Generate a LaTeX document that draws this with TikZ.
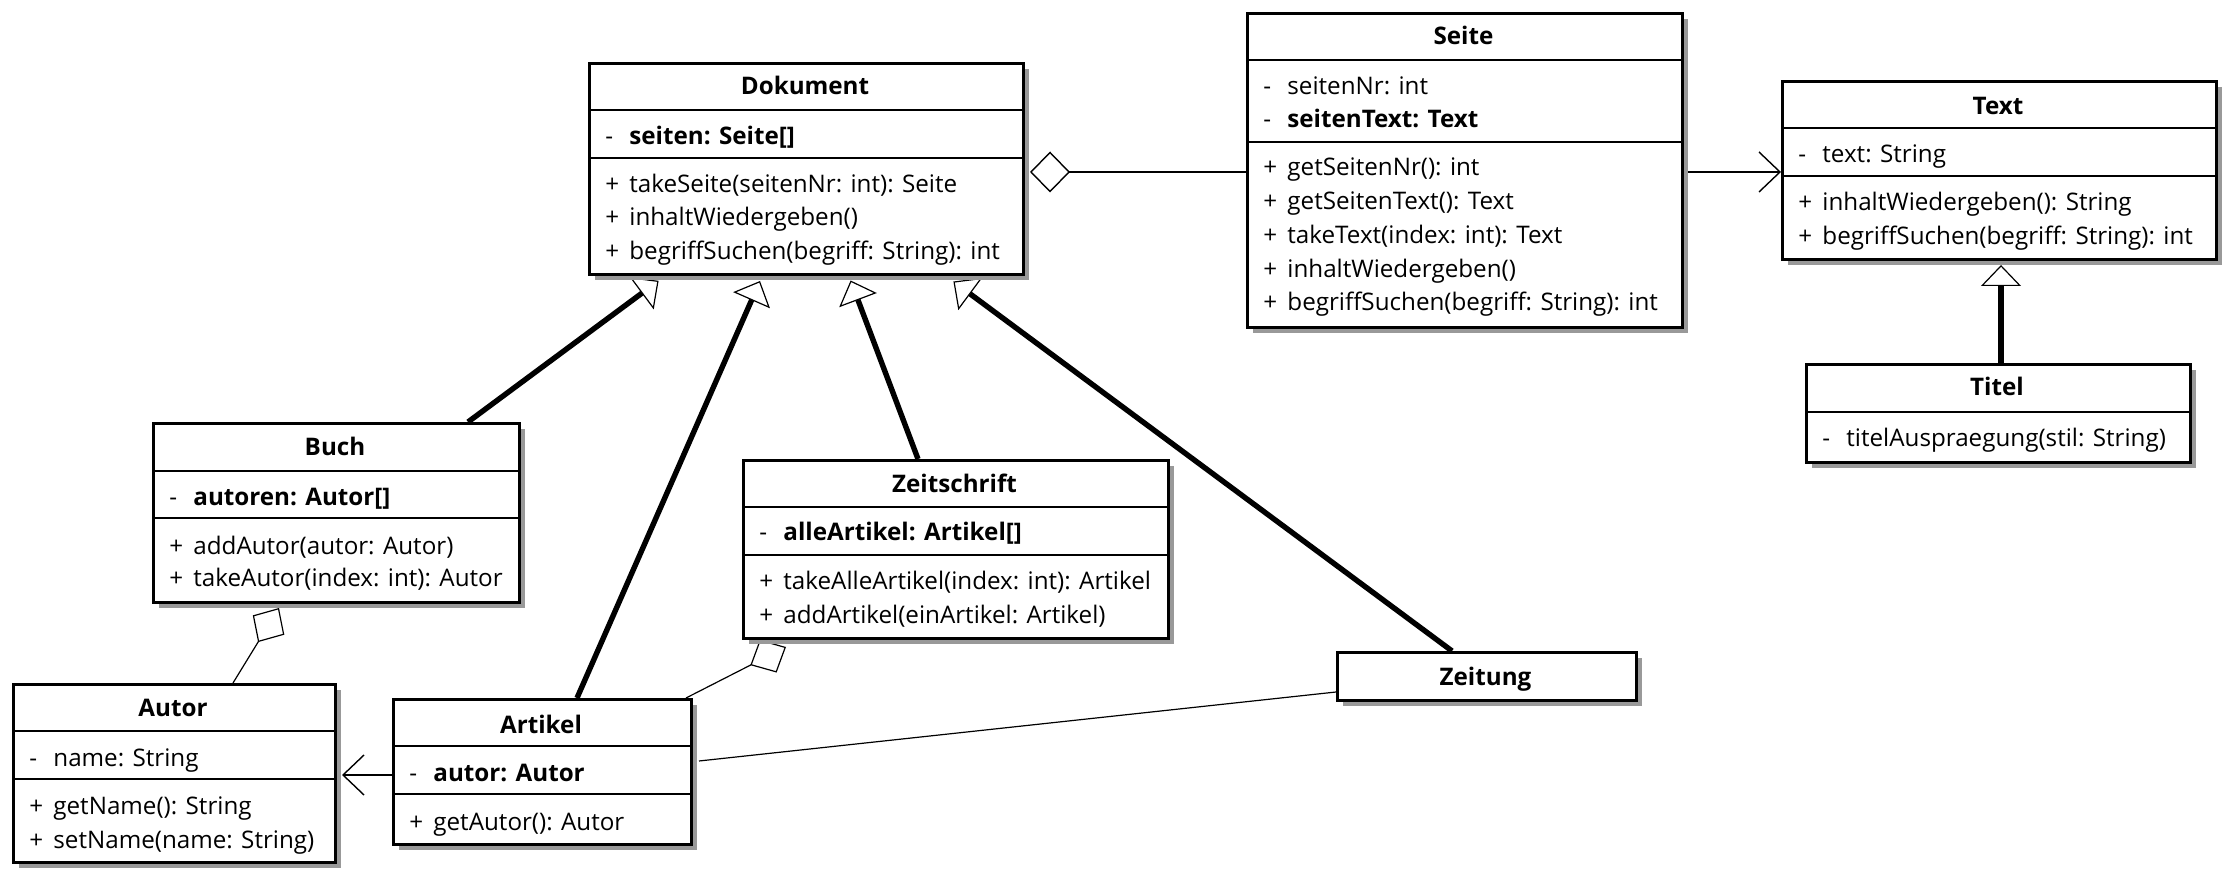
\documentclass[tikz,border=0pt]{standalone}
\usepackage{fontspec}
\setmainfont{Open Sans}
\usetikzlibrary{arrows.meta,shadows}
\pgfdeclarelayer{background}
\pgfsetlayers{background,main}
\newcommand\umlfont{\fontsize{12.1}{17}\selectfont}
\newcommand\mem[5]{\node[mk] (#1m) at (#2+17,#3) {#4}; \node[mb] (#1) at (#2+41,#3) {#5};}
\begin{document}
\begin{tikzpicture}[x=0.5pt,y=-0.5pt,
 box/.style={draw, line width=1.3pt, fill=white, rectangle, inner sep=0pt, anchor=north west,
   drop shadow={shadow xshift=3pt, shadow yshift=-3pt, fill=black!40, opacity=1}},
 tt/.style={anchor=base, inner sep=0pt, font=\umlfont\bfseries},
 mk/.style={anchor=base west, inner sep=0pt, font=\umlfont},
 mb/.style={anchor=base west, inner sep=0pt, font=\umlfont},
 sepl/.style={line width=1.2pt},
 gen/.style={line width=2.7pt, -{Triangle[open, length=10.5pt, width=20pt, line width=0.6pt]}},
 agg/.style={line width=0.6pt},
 aggd/.style={line width=0.6pt, {Diamond[open, length=20pt, width=18.5pt, line width=0.6pt]}-},
 nav/.style={line width=0.8pt, -{Straight Barb[length=10.5pt, width=20pt, line width=0.7pt]}},
]
\useasboundingbox (0,0) rectangle (2232,876);

% Dokument
\node[box, minimum width=217pt, minimum height=105.5pt] (Dokument) at (588,62) {};
\draw[sepl] (Dokument.west |- 0,110) -- (Dokument.east |- 0,110);
\draw[sepl] (Dokument.west |- 0,158) -- (Dokument.east |- 0,158);
\node[tt] (dT) at (805,95) {Dokument};
\mem{dA1}{588}{145}{-}{\bfseries seiten: Seite[]}
\mem{dM1}{588}{193}{+}{takeSeite(seitenNr: int): Seite}
\mem{dM2}{588}{226}{+}{inhaltWiedergeben()}
\mem{dM3}{588}{260}{+}{begriffSuchen(begriff: String): int}

% Seite
\node[box, minimum width=217.5pt, minimum height=157pt] (Seite) at (1246,12) {};
\draw[sepl] (Seite.west |- 0,60) -- (Seite.east |- 0,60);
\draw[sepl] (Seite.west |- 0,142) -- (Seite.east |- 0,142);
\node[tt] (sT) at (1463.5,45) {Seite};
\mem{sA1}{1246}{95}{-}{seitenNr: int}
\mem{sA2}{1246}{128}{-}{\bfseries seitenText: Text}
\mem{sM1}{1246}{176}{+}{getSeitenNr(): int}
\mem{sM2}{1246}{210}{+}{getSeitenText(): Text}
\mem{sM3}{1246}{244}{+}{takeText(index: int): Text}
\mem{sM4}{1246}{278}{+}{inhaltWiedergeben()}
\mem{sM5}{1246}{311}{+}{begriffSuchen(begriff: String): int}

% Text
\node[box, minimum width=217pt, minimum height=89pt] (Text) at (1781,80) {};
\draw[sepl] (Text.west |- 0,128) -- (Text.east |- 0,128);
\draw[sepl] (Text.west |- 0,176) -- (Text.east |- 0,176);
\node[tt] (tT) at (1998,115) {Text};
\mem{tA1}{1781}{163}{-}{text: String}
\mem{tM1}{1781}{211}{+}{inhaltWiedergeben(): String}
\mem{tM2}{1781}{245}{+}{begriffSuchen(begriff: String): int}

% Titel
\node[box, minimum width=192pt, minimum height=49pt] (Titel) at (1805,363) {};
\draw[sepl] (Titel.west |- 0,412) -- (Titel.east |- 0,412);
\node[tt] (tiT0) at (1997,396) {Titel};
\mem{tiA1}{1805}{447}{-}{titelAuspraegung(stil: String)}

% Buch
\node[box, minimum width=183pt, minimum height=89.5pt] (Buch) at (152,422) {};
\draw[sepl] (Buch.west |- 0,471) -- (Buch.east |- 0,471);
\draw[sepl] (Buch.west |- 0,518) -- (Buch.east |- 0,518);
\node[tt] (bT) at (335,456) {Buch};
\mem{bA1}{152}{506}{-}{\bfseries autoren: Autor[]}
\mem{bM1}{152}{554}{+}{addAutor(autor: Autor)}
\mem{bM2}{152}{587}{+}{takeAutor(index: int): Autor}

% Autor
\node[box, minimum width=161pt, minimum height=89pt] (Autor) at (12,683) {};
\draw[sepl] (Autor.west |- 0,731) -- (Autor.east |- 0,731);
\draw[sepl] (Autor.west |- 0,779) -- (Autor.east |- 0,779);
\node[tt] (aT) at (173,716) {Autor};
\mem{aA1}{12}{766}{-}{name: String}
\mem{aM1}{12}{814}{+}{getName(): String}
\mem{aM2}{12}{848}{+}{setName(name: String)}

% Artikel
\node[box, minimum width=149pt, minimum height=72.5pt] (Artikel) at (392,698) {};
\draw[sepl] (Artikel.west |- 0,746) -- (Artikel.east |- 0,746);
\draw[sepl] (Artikel.west |- 0,794) -- (Artikel.east |- 0,794);
\node[tt] (arT) at (541,733) {Artikel};
\mem{arA1}{392}{781}{-}{\bfseries autor: Autor}
\mem{arM1}{392}{830}{+}{getAutor(): Autor}

% Zeitschrift
\node[box, minimum width=212.5pt, minimum height=89pt] (Zeitschrift) at (742,459) {};
\draw[sepl] (Zeitschrift.west |- 0,507) -- (Zeitschrift.east |- 0,507);
\draw[sepl] (Zeitschrift.west |- 0,555) -- (Zeitschrift.east |- 0,555);
\node[tt] (zT) at (954.5,493) {Zeitschrift};
\mem{zA1}{742}{541}{-}{\bfseries alleArtikel: Artikel[]}
\mem{zM1}{742}{589}{+}{takeAlleArtikel(index: int): Artikel}
\mem{zM2}{742}{624}{+}{addArtikel(einArtikel: Artikel)}

% Zeitung
\node[box, minimum width=149.5pt, minimum height=24pt] (Zeitung) at (1336,651) {};
\node[tt] (zgT) at (1485.5,685) {Zeitung};

\begin{pgfonlayer}{background}
\coordinate (dsD) at (1030,172);
\draw[line width=0.8pt, {Diamond[open, length=20pt, width=20.5pt, line width=0.7pt]}-] (dsD) -- (Seite.west |- dsD);
\coordinate (stS) at (1688,172);
\draw[nav] (stS) -- (Text.west |- stS);
\coordinate (tiTip) at (2001,265);
\draw[gen] (Titel.north -| tiTip) -- (tiTip);
\coordinate (gB) at (658.6,280.8);
\coordinate (gA) at (760,281);
\coordinate (gZ) at (850.6,280.5);
\coordinate (gZg) at (953.4,281.5);
\draw[gen] (Buch.north -| 468,0) -- (gB);
\draw[gen] (Artikel.north -| 577,0) -- (gA);
\draw[gen] (Zeitschrift.north -| 918,0) -- (gZ);
\draw[gen] (Zeitung.north -| 1452,0) -- (gZg);
\coordinate (bD) at (279,608);
\draw[aggd] (bD) -- (Autor.north -| 233,0);
\coordinate (zD) at (786,647);
\draw[aggd] (zD) -- (Artikel.north -| 686,0);
\coordinate (auE) at (342,775);
\draw[nav] (Artikel.west |- auE) -- (auE);
\coordinate (azS) at (699,761);
\draw[agg] (azS) -- (Zeitung.west |- 0,692);
\end{pgfonlayer}
\end{tikzpicture}
\end{document}
